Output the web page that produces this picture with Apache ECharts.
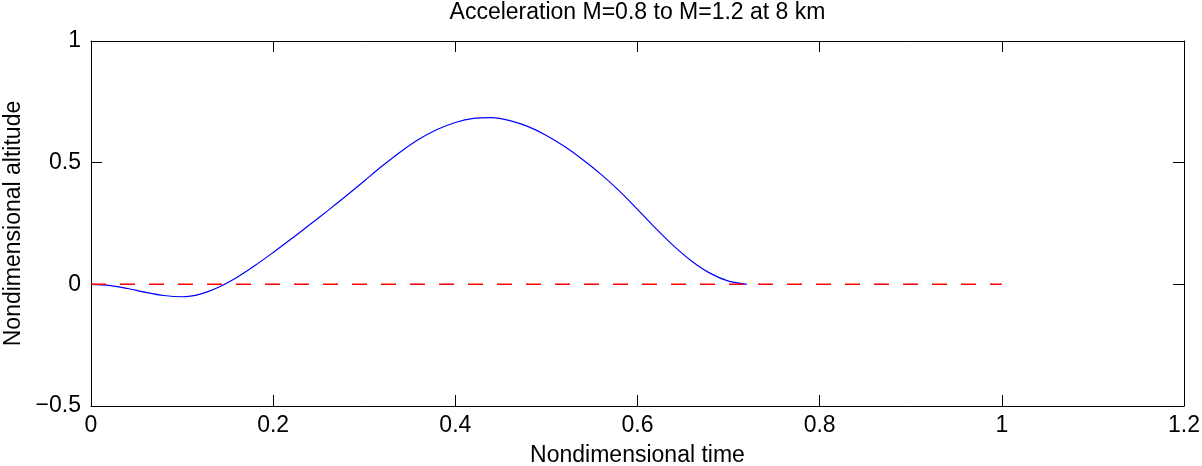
<!DOCTYPE html>
<html>
<head>
<meta charset="utf-8">
<script src="https://cdn.jsdelivr.net/npm/echarts@6/dist/echarts.min.js"></script>
<style>
html,body{margin:0;padding:0;background:#fff;}
#chart{width:1202px;height:466px;}
</style>
</head>
<body>
<div id="chart"></div>
<script>
// Data
const titleText = 'Acceleration M=0.8 to M=1.2 at 8 km';
const xName = 'Nondimensional time';
const yName = 'Nondimensional altitude';
const timeValues = [0, 0.02, 0.04, 0.06, 0.08, 0.10, 0.12, 0.14, 0.16, 0.18, 0.20, 0.22, 0.24, 0.26, 0.28, 0.30, 0.32, 0.34, 0.36, 0.38, 0.40, 0.42, 0.44, 0.46, 0.48, 0.50, 0.52, 0.54, 0.56, 0.58, 0.60, 0.62, 0.64, 0.66, 0.68, 0.70, 0.72];
const altitudeValues = [0, -0.004, -0.017, -0.033, -0.046, -0.051, -0.040, -0.012, 0.028, 0.077, 0.131, 0.187, 0.245, 0.303, 0.363, 0.425, 0.487, 0.545, 0.596, 0.636, 0.665, 0.682, 0.685, 0.673, 0.648, 0.612, 0.566, 0.512, 0.452, 0.384, 0.308, 0.230, 0.157, 0.094, 0.045, 0.013, 0];
const refTime = [0, 1];
const refAltitude = [0, 0];
const xTicks = {min: 0, max: 1.2, interval: 0.2};
const yTicks = {min: -0.5, max: 1, interval: 0.5};

const font = 'Liberation Sans, Arial, sans-serif';
const fs = 23;

const pairs = (xs, ys) => xs.map((x, i) => [x, ys[i]]);
const fmtNum = v => {
  let s = String(Math.round(v * 1000) / 1000);
  return s.replace('-', '\u2212');
};

const axisLine = {show: true, onZero: false, lineStyle: {color: '#000', width: 1}};
const tickStyle = {show: true, inside: true, length: 11, lineStyle: {color: '#000', width: 1}};

const chart = echarts.init(document.getElementById('chart'), null, {renderer: 'canvas'});
chart.setOption({
  animation: false,
  backgroundColor: '#fff',
  title: {
    text: titleText,
    left: 637.5,
    textAlign: 'center',
    top: 1,
    padding: 0,
    textStyle: {fontFamily: font, fontSize: fs, fontWeight: 'normal', color: '#000'}
  },
  grid: {left: 91, top: 41, right: 18, bottom: 60, containLabel: false, outerBoundsMode: 'none'},
  xAxis: [
    {
      type: 'value', position: 'bottom',
      min: xTicks.min, max: xTicks.max, interval: xTicks.interval,
      name: xName, nameLocation: 'middle', nameGap: 38,
      nameTextStyle: {fontFamily: font, fontSize: fs, color: '#000'},
      axisLine: axisLine, axisTick: tickStyle, splitLine: {show: false},
      axisLabel: {fontFamily: font, fontSize: fs, color: '#000', margin: 8, formatter: fmtNum}
    },
    {
      type: 'value', position: 'top',
      min: xTicks.min, max: xTicks.max, interval: xTicks.interval,
      axisLine: axisLine, axisTick: tickStyle, splitLine: {show: false},
      axisLabel: {show: false}
    }
  ],
  yAxis: [
    {
      type: 'value', position: 'left',
      min: yTicks.min, max: yTicks.max, interval: yTicks.interval,
      name: yName, nameLocation: 'middle', nameGap: 63, nameRotate: 90,
      nameTextStyle: {fontFamily: font, fontSize: fs, color: '#000'},
      axisLine: axisLine, axisTick: tickStyle, splitLine: {show: false},
      axisLabel: {fontFamily: font, fontSize: fs, color: '#000', margin: 10, formatter: fmtNum}
    },
    {
      type: 'value', position: 'right',
      min: yTicks.min, max: yTicks.max, interval: yTicks.interval,
      axisLine: axisLine, axisTick: tickStyle, splitLine: {show: false},
      axisLabel: {show: false}
    }
  ],
  series: [
    {
      type: 'line',
      data: pairs(timeValues, altitudeValues),
      smooth: 0.3,
      showSymbol: false,
      lineStyle: {color: '#0000ff', width: 1.2},
      z: 2
    },
    {
      type: 'line',
      data: pairs(refTime, refAltitude),
      showSymbol: false,
      lineStyle: {color: '#ff0000', width: 1.5, type: [15, 14]},
      z: 3
    }
  ]
});
</script>
</body>
</html>
